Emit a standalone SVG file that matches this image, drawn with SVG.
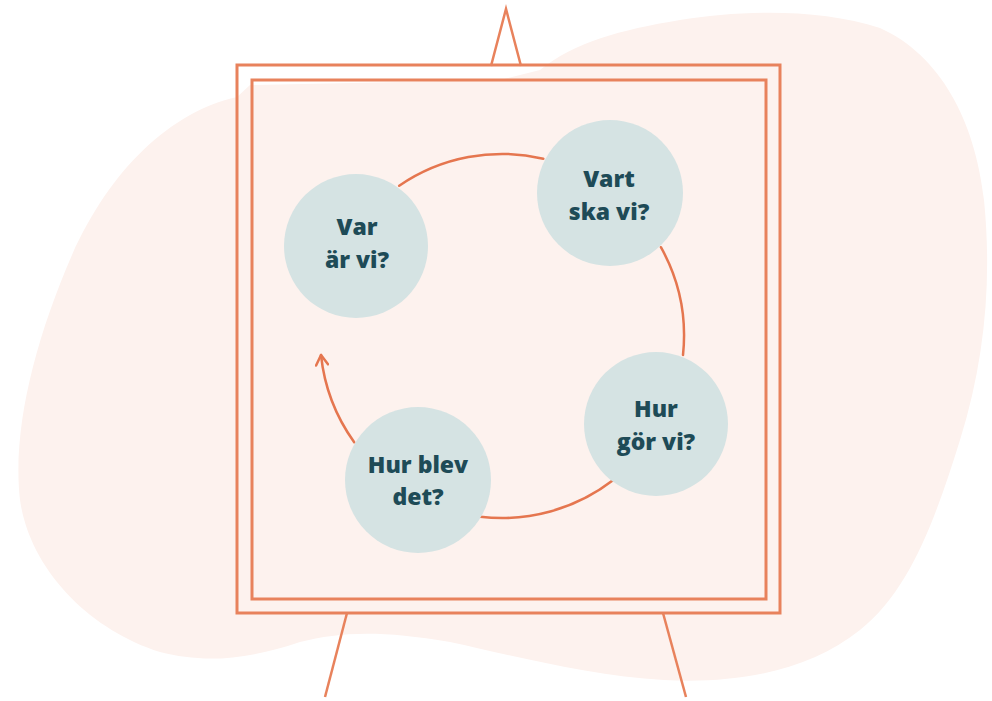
<svg xmlns="http://www.w3.org/2000/svg" width="992" height="701" viewBox="0 0 992 701">
  <defs>
    <style>
      .blob { fill: #FDF2EE; }
      .frame { fill: none; stroke: #E8825C; stroke-width: 3; }
      .stand { fill: none; stroke: #E8825C; stroke-width: 2.5; stroke-linejoin: miter; }
      .node circle { fill: #D5E3E3; }
      .node text { font-family: "Open Sans", "Liberation Sans", sans-serif; font-weight: 800; font-size: 23px; fill: #1E4B57; text-anchor: middle; }
      .conn { fill: none; stroke: #E5764F; stroke-width: 2.5; stroke-linecap: round; }
    </style>
    <marker id="arrow" viewBox="0 0 14 14" refX="12" refY="7" markerWidth="14" markerHeight="14" markerUnits="userSpaceOnUse" orient="auto">
      <path d="M 2 1 L 12 7 L 2 13" fill="none" stroke="#E5764F" stroke-width="2.5" stroke-linecap="round" stroke-linejoin="round"/>
    </marker>
  </defs>

  <rect width="992" height="701" fill="#FFFFFF"/>

  <path class="blob" d="M 237 97 C 170 112 110 170 72 255 C 35 340 12 430 20 500 C 30 570 90 630 160 652 C 200 662 240 662 300 642 C 340 632 380 630 450 642 C 510 655 590 676 664 680 C 740 684 810 670 860 630 C 910 590 935 520 960 440 C 985 360 992 280 984 200 C 975 120 940 55 880 28 C 820 8 740 10 680 20 C 620 30 575 42 540 70 L 500 80 L 250 85 Z"/>

  <g id="easel">
    <polyline class="stand" points="491,66 506,9 521,66"/>
    <line class="stand" x1="347" y1="613" x2="325" y2="697"/>
    <line class="stand" x1="663" y1="613" x2="686" y2="697"/>
    <rect x="237" y="65" width="543" height="548" fill="#FEF4F1" class="frame"/>
    <rect x="252" y="80" width="514" height="519" fill="#FDF1EE" class="frame"/>
  </g>

  <g id="connectors">
    <path class="conn" d="M 399.2 185.8 A 182 182 0 0 1 543.3 158.7"/>
    <path class="conn" d="M 660.9 247.2 A 182 182 0 0 1 683.0 355.0"/>
    <path class="conn" d="M 613.3 480.0 A 182 182 0 0 1 480.1 516.7"/>
    <path class="conn" d="M 354.2 442.2 A 182 182 0 0 1 321.0 355.0" marker-end="url(#arrow)"/>
  </g>

  <g id="node-var" class="node">
    <circle cx="356" cy="246" r="72"/>
    <text x="357" y="235">Var</text>
    <text x="357" y="268">är vi?</text>
  </g>

  <g id="node-vart" class="node">
    <circle cx="610" cy="193" r="73"/>
    <text x="609" y="187">Vart</text>
    <text x="609" y="220">ska vi?</text>
  </g>

  <g id="node-hur" class="node">
    <circle cx="656" cy="424" r="72"/>
    <text x="656" y="417">Hur</text>
    <text x="656" y="450">gör vi?</text>
  </g>

  <g id="node-hurblev" class="node">
    <circle cx="418" cy="480" r="73"/>
    <text x="418" y="473">Hur blev</text>
    <text x="418" y="505">det?</text>
  </g>
</svg>
